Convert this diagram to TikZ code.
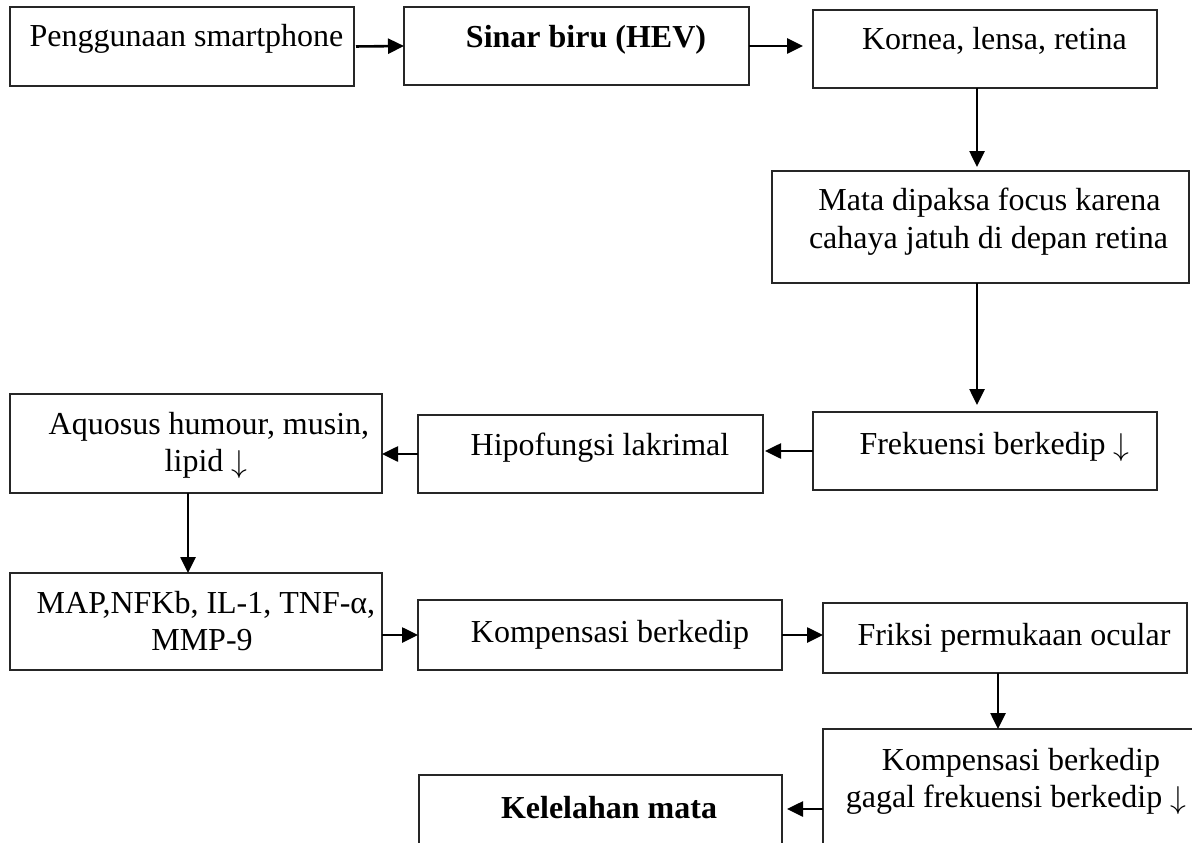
\documentclass[tikz,border=0pt]{standalone}
\usepackage{graphicx}
\usepackage{fontspec}
\setmainfont{Liberation Serif}
\usetikzlibrary{arrows.meta}
\newcommand{\darr}{\raisebox{-1pt}{\resizebox{!}{22pt}{$\downarrow$}}}
\begin{document}
\begin{tikzpicture}[x=1pt,y=-1pt,
  box/.style={draw=black!85, line width=1.3pt, anchor=north west, inner sep=0pt, outer sep=0pt},
  txt/.style={anchor=base, inner sep=0pt, font=\fontsize{32}{37}\selectfont},
  arr/.style={draw=black, line width=2.6pt, -{Triangle[length=16pt,width=15pt]}}]
\useasboundingbox (0,0) rectangle (1192,843);
\clip (0,0) rectangle (1192,843);
% boxes
\node[box, minimum width=344pt, minimum height=79pt] (b1) at (10,7) {};
\node[box, minimum width=345pt, minimum height=78pt] (b2) at (404,7) {};
\node[box, minimum width=344pt, minimum height=78pt] (b3) at (813,10) {};
\node[box, minimum width=417pt, minimum height=112pt] (b4) at (772,171) {};
\node[box, minimum width=344pt, minimum height=78pt] (b5) at (813,412) {};
\node[box, minimum width=345pt, minimum height=78pt] (b6) at (418,415) {};
\node[box, minimum width=372pt, minimum height=99pt] (b7) at (10,394) {};
\node[box, minimum width=372pt, minimum height=97pt] (b8) at (10,573) {};
\node[box, minimum width=364pt, minimum height=70pt] (b9) at (418,600) {};
\node[box, minimum width=364pt, minimum height=70pt] (b10) at (823,603) {};
\node[box, minimum width=450pt, minimum height=200pt] (b11) at (823,729) {};
\node[box, minimum width=363pt, minimum height=150pt] (b12) at (419,775) {};
% texts
\node[txt] (t1) at (186.5,47) {Penggunaan smartphone};
\node[txt] (t2) at (586,48) {\bfseries Sinar biru (HEV)};
\node[txt] (t3) at (994.5,50) {Kornea, lensa, retina};
\node[txt] (t4a) at (989.5,210) {Mata dipaksa focus karena};
\node[txt] (t4b) at (988.5,248) {cahaya jatuh di depan retina};
\node[txt] (t5) at (994.5,454) {Frekuensi berkedip \darr};
\node[txt] (t6) at (600,455) {Hipofungsi lakrimal};
\node[txt] (t7a) at (209,434) {Aquosus humour, musin,};
\node[txt] (t7b) at (206,471) {lipid \darr};
\node[txt] (t8a) at (206,613) {MAP,NFKb, IL-1, TNF-α,};
\node[txt] (t8b) at (202,650) {MMP-9};
\node[txt] (t9) at (610,642) {Kompensasi berkedip};
\node[txt] (t10) at (1014,645) {Friksi permukaan ocular};
\node[txt] (t11a) at (1021,770) {Kompensasi berkedip};
\node[txt] (t11b) at (1016,807) {gagal frekuensi berkedip \darr};
\node[txt] (t12) at (609,818) {\bfseries Kelelahan mata};
% connectors
\draw[arr, shorten <=2pt] (b1.east) -- (b2.west);
\draw[arr, shorten >=10pt] (b2.east) -- (b2.east -| b3.west);
\draw[arr, shorten >=4pt] ([xshift=-8pt]b3.south) -- ([xshift=-8pt]b3.south |- b4.north);
\draw[arr, shorten >=7pt] ([xshift=-8pt]b3.south |- b4.south) -- ([xshift=-8pt]b3.south |- b5.north);
\draw[arr, shorten >=2pt] (b5.west) -- (b5.west -| b6.east);
\draw[arr] (b6.west) -- (b6.west -| b7.east);
\draw[arr] ([xshift=-8pt]b7.south) -- ([xshift=-8pt]b7.south |- b8.north);
\draw[arr] (b9.west -| b8.east) -- (b9.west);
\draw[arr] (b9.east) -- (b9.east -| b10.west);
\draw[arr] ([xshift=-7pt]b10.south) -- ([xshift=-7pt]b10.south |- b11.north);
\draw[arr, shorten >=5pt] ([yshift=20pt]b11.west) -- ([yshift=20pt]b11.west -| b12.east);
\end{tikzpicture}
\end{document}
